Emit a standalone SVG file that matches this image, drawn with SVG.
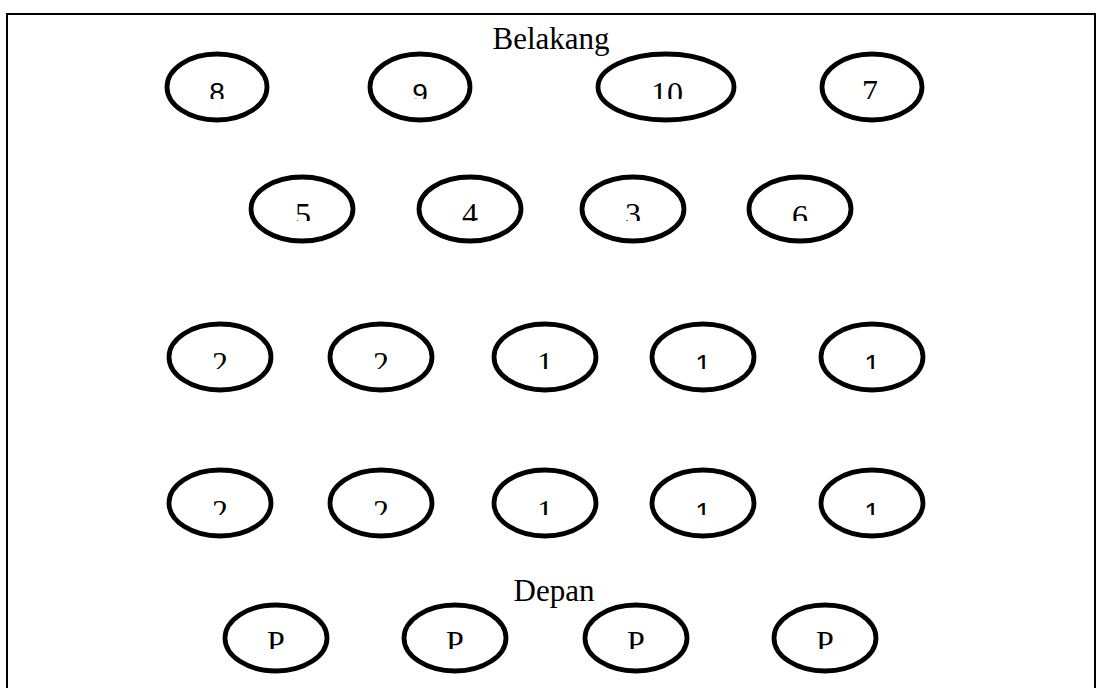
<svg xmlns="http://www.w3.org/2000/svg" width="1096" height="688" viewBox="0 0 1096 688">
<style>
.n{fill:#fff;stroke:#000;stroke-width:4.8}
.t{font-family:"Liberation Serif",serif;font-size:32px;fill:#000;text-anchor:middle}
.s{font-family:"Liberation Sans",sans-serif;font-size:28px;fill:#000;text-anchor:middle}
.h{font-family:"Liberation Serif",serif;font-size:31px;fill:#000;text-anchor:middle}
</style>
<defs>
<clipPath id="c1"><rect x="0" y="0" width="1096" height="99"/></clipPath>
<clipPath id="c2"><rect x="0" y="0" width="1096" height="221"/></clipPath>
<clipPath id="c3"><rect x="0" y="0" width="1096" height="369"/></clipPath>
<clipPath id="c4"><rect x="0" y="0" width="1096" height="515"/></clipPath>
<clipPath id="c5"><rect x="0" y="0" width="1096" height="649"/></clipPath>
</defs>
<rect width="1096" height="688" fill="#fff"/>
<path d="M7,688 V14 H1095 V688" fill="none" stroke="#000" stroke-width="2"/>
<text class="h" x="551" y="49">Belakang</text>
<text class="h" x="554" y="601">Depan</text>
<g id="connectors"/>
<g id="n8"><ellipse class="n" cx="217" cy="87" rx="50" ry="33"/><text class="s" x="217" y="102" clip-path="url(#c1)">8</text></g>
<g id="n9"><ellipse class="n" cx="420" cy="87" rx="50" ry="33"/><text class="s" x="420" y="103" clip-path="url(#c1)">9</text></g>
<g id="n10"><ellipse class="n" cx="666" cy="87" rx="68" ry="33"/><text class="t" x="667" y="104" clip-path="url(#c1)">10</text></g>
<g id="n7"><ellipse class="n" cx="872" cy="87" rx="50" ry="33"/><text class="t" x="870" y="102" clip-path="url(#c1)">7</text></g>
<g id="n5"><ellipse class="n" cx="302" cy="209" rx="51" ry="32"/><text class="t" x="303" y="225" clip-path="url(#c2)">5</text></g>
<g id="n4"><ellipse class="n" cx="470" cy="209" rx="51" ry="32"/><text class="t" x="470" y="225" clip-path="url(#c2)">4</text></g>
<g id="n3"><ellipse class="n" cx="633" cy="209" rx="51" ry="32"/><text class="t" x="633" y="225" clip-path="url(#c2)">3</text></g>
<g id="n6"><ellipse class="n" cx="800" cy="209" rx="51" ry="32"/><text class="t" x="800" y="227" clip-path="url(#c2)">6</text></g>
<g id="r3a"><ellipse class="n" cx="220" cy="357" rx="51" ry="33"/><text class="t" x="220" y="374" clip-path="url(#c3)">2</text></g>
<g id="r3b"><ellipse class="n" cx="381" cy="357" rx="51" ry="33"/><text class="t" x="381" y="374" clip-path="url(#c3)">2</text></g>
<g id="r3c"><ellipse class="n" cx="545" cy="357" rx="51" ry="33"/><text class="t" x="545" y="374" clip-path="url(#c3)">1</text></g>
<g id="r3d"><ellipse class="n" cx="703" cy="357" rx="51" ry="33"/><text class="s" x="703" y="374" clip-path="url(#c3)">1</text></g>
<g id="r3e"><ellipse class="n" cx="872" cy="357" rx="51" ry="33"/><text class="s" x="872" y="374" clip-path="url(#c3)">1</text></g>
<g id="r4a"><ellipse class="n" cx="220" cy="503" rx="51" ry="33"/><text class="t" x="220" y="522" clip-path="url(#c4)">2</text></g>
<g id="r4b"><ellipse class="n" cx="381" cy="503" rx="51" ry="33"/><text class="t" x="381" y="522" clip-path="url(#c4)">2</text></g>
<g id="r4c"><ellipse class="n" cx="545" cy="503" rx="51" ry="33"/><text class="t" x="545" y="522" clip-path="url(#c4)">1</text></g>
<g id="r4d"><ellipse class="n" cx="703" cy="503" rx="51" ry="33"/><text class="s" x="703" y="522" clip-path="url(#c4)">1</text></g>
<g id="r4e"><ellipse class="n" cx="872" cy="503" rx="51" ry="33"/><text class="s" x="872" y="522" clip-path="url(#c4)">1</text></g>
<g id="p1"><ellipse class="n" cx="276" cy="638" rx="51" ry="33"/><text class="t" x="276" y="653" clip-path="url(#c5)">P</text></g>
<g id="p2"><ellipse class="n" cx="455" cy="638" rx="51" ry="33"/><text class="t" x="455" y="653" clip-path="url(#c5)">P</text></g>
<g id="p3"><ellipse class="n" cx="636" cy="638" rx="51" ry="33"/><text class="t" x="636" y="653" clip-path="url(#c5)">P</text></g>
<g id="p4"><ellipse class="n" cx="825" cy="638" rx="51" ry="33"/><text class="t" x="825" y="653" clip-path="url(#c5)">P</text></g>
</svg>
